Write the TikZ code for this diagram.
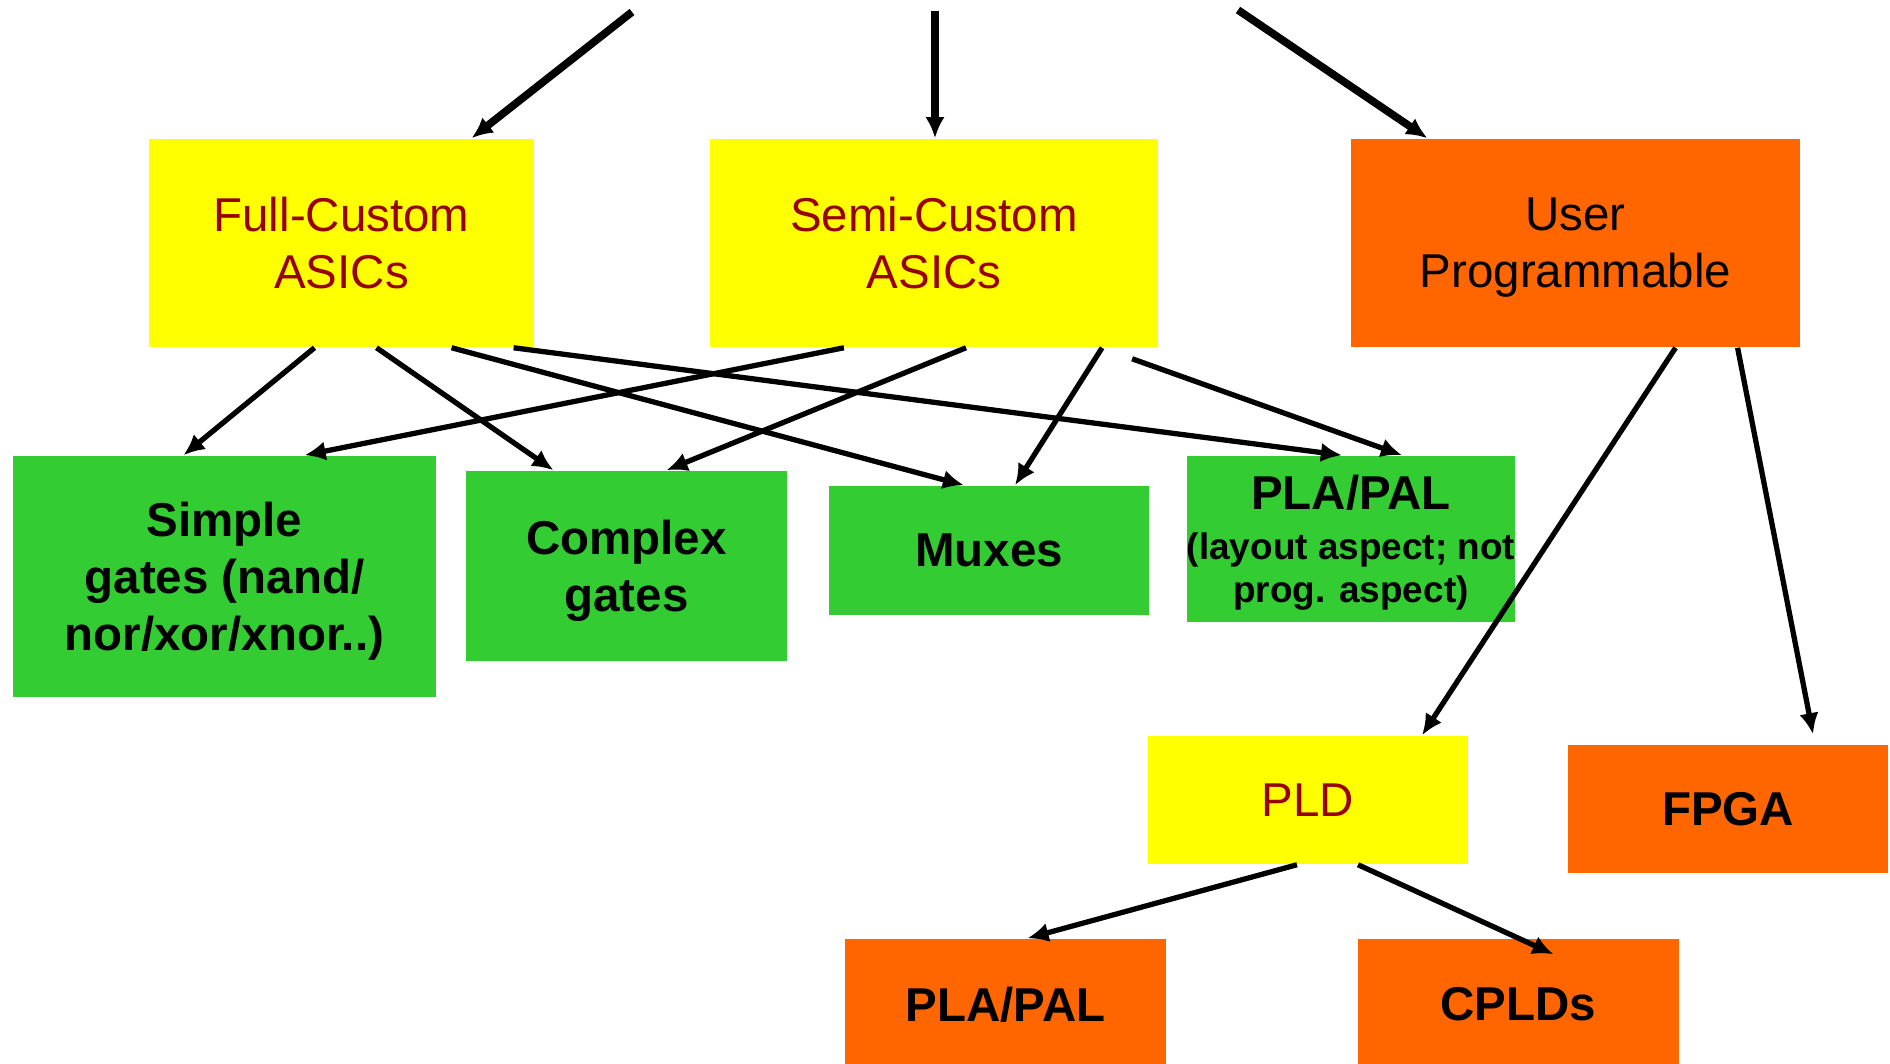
\documentclass[tikz,border=0pt]{standalone}
\usepackage{fontspec}
\setmainfont{Liberation Sans}
\usetikzlibrary{arrows.meta}
\definecolor{boxyellow}{RGB}{255,255,0}
\definecolor{boxorange}{RGB}{255,102,0}
\definecolor{boxgreen}{RGB}{51,204,51}
\definecolor{textred}{RGB}{153,0,0}

\begin{document}
\begin{tikzpicture}[x=0.01cm, y=-0.01cm,
    box/.style={inner sep=0pt, align=center, text depth=0pt, font=\fontsize{13.5}{16.2}\selectfont},
    ybox/.style={box, fill=boxyellow, text=textred},
    obox/.style={box, fill=boxorange},
    gbox/.style={box, fill=boxgreen, font=\fontsize{13.5}{16.2}\selectfont\bfseries},
    link/.style={-{Latex[length=6pt,width=5.5pt]}, line width=1.5pt},
    toplink/.style={link, line width=2.2pt}]
    \useasboundingbox (0,0) rectangle (1890,1064);

    % Top level
    \node[ybox, minimum width=3.85cm, minimum height=2.08cm] (fc) at (341.5,243) {Full-Custom\\ASICs};
    \node[ybox, minimum width=4.48cm, minimum height=2.08cm] (sc) at (934,243) {Semi-Custom\\ASICs};
    \node[obox, minimum width=4.49cm, minimum height=2.08cm] (up) at (1575.5,243) {User\\Programmable};

    % Building blocks
    \node[gbox, minimum width=4.23cm, minimum height=2.41cm] (sg) at (224.5,576.5) {Simple\\gates (nand/\\nor/xor/xnor..)};
    \node[gbox, minimum width=3.21cm, minimum height=1.90cm] (cg) at (626.5,566) {Complex\\gates};
    \node[gbox, minimum width=3.20cm, minimum height=1.29cm] (mx) at (989,550.5) {Muxes};
    \node[gbox, minimum width=3.16cm, minimum height=1.66cm] (pp) at (1351,539)
        {PLA/PAL\\[-2pt]{\fontsize{10.5}{12.4}\selectfont (layout aspect; not}\\[-3.9pt]{\fontsize{10.5}{12.4}\selectfont prog. aspect)}};

    % Programmable devices
    \node[ybox, minimum width=3.20cm, minimum height=1.28cm] (pld) at (1308,800) {PLD};
    \node[obox, font=\fontsize{13.5}{16.2}\selectfont\bfseries, minimum width=3.20cm, minimum height=1.28cm] (fpga) at (1728,809) {FPGA};
    \node[obox, font=\fontsize{13.5}{16.2}\selectfont\bfseries, minimum width=3.21cm, minimum height=1.30cm] (pla) at (1005.5,1004) {PLA/PAL};
    \node[obox, font=\fontsize{13.5}{16.2}\selectfont\bfseries, minimum width=3.21cm, minimum height=1.30cm] (cpld) at (1518.5,1004) {CPLDs};

    % Arrows from the top
    \coordinate (t1) at (632,12);
    \coordinate (t2) at (935,11);
    \coordinate (t3) at (1238,10);
    \draw[toplink] (t1) -- ([xshift=1.3cm]fc.north);
    \draw[toplink] (t2) -- ([xshift=0.01cm]sc.north);
    \draw[toplink] (t3) -- ([xshift=-1.48cm]up.north);

    % Full-Custom
    \draw[link] ([xshift=-0.27cm]fc.south) -- ([xshift=-0.41cm]sg.north);
    \draw[link] ([xshift=0.35cm]fc.south) -- ([xshift=-0.73cm]cg.north);
    \draw[link] ([xshift=1.1cm]fc.south) -- ([xshift=-0.25cm]mx.north);
    \draw[link] ([xshift=1.72cm]fc.south) -- ([xshift=-0.09cm]pp.north);

    % Semi-Custom
    \draw[link] ([xshift=-0.9cm]sc.south) -- ([xshift=0.8cm]sg.north);
    \draw[link] ([xshift=0.32cm]sc.south) -- ([xshift=0.4cm]cg.north);
    \draw[link] ([xshift=1.68cm]sc.south) -- ([xshift=0.26cm]mx.north);
    \draw[link] ([xshift=1.98cm,yshift=-0.11cm]sc.south) -- ([xshift=0.51cm]pp.north);

    % User Programmable
    \draw[link] ([xshift=1.0cm]up.south) -- ([xshift=1.14cm]pld.north);
    \draw[link] ([xshift=1.62cm]up.south) -- ([xshift=0.85cm,yshift=0.1cm]fpga.north);

    % PLD
    \draw[link] ([xshift=-0.11cm]pld.south) -- ([xshift=0.22cm]pla.north);
    \draw[link] ([xshift=0.5cm]pld.south) -- ([xshift=0.35cm,yshift=-0.16cm]cpld.north);
\end{tikzpicture}
\end{document}
